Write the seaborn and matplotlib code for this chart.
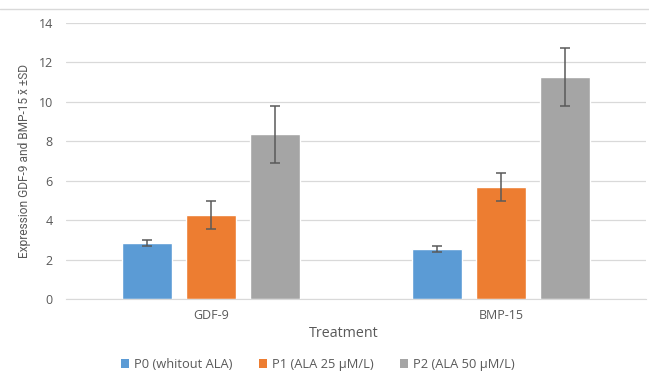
import pandas as pd
import numpy as np
import seaborn as sns
import matplotlib.pyplot as plt
from matplotlib.lines import Line2D
from matplotlib.patches import Patch

genes = ['GDF-9', 'BMP-15']
groups = ['P0 (whitout ALA)', 'P1 (ALA 25 µM/L)', 'P2 (ALA 50 µM/L)']
means = {
    'P0 (whitout ALA)': [2.83, 2.56],
    'P1 (ALA 25 µM/L)': [4.27, 5.68],
    'P2 (ALA 50 µM/L)': [8.37, 11.28],
}
sds = {
    'P0 (whitout ALA)': [0.15, 0.14],
    'P1 (ALA 25 µM/L)': [0.72, 0.71],
    'P2 (ALA 50 µM/L)': [1.45, 1.46],
}
colors = ['#5B9BD5', '#ED7D31', '#A5A5A5']

rows = []
for g in groups:
    for i, gene in enumerate(genes):
        rows.append({'gene': gene, 'group': g, 'mean': means[g][i], 'sd': sds[g][i]})
df = pd.DataFrame(rows)

sns.set_style('white')
plt.rcParams['font.family'] = ['Open Sans', 'DejaVu Sans']

fig = plt.figure(figsize=(6.49, 3.76), dpi=100)
ax = fig.add_axes([0.1017, 0.204, 0.8937, 0.7348])

sns.barplot(data=df, x='gene', y='mean', hue='group', order=genes, hue_order=groups,
            palette=colors, errorbar=None, width=0.662, gap=0.22, saturation=1,
            legend=False, ax=ax, zorder=2)

for cont, g in zip(ax.containers, groups):
    xs = [p.get_x() + p.get_width() / 2 for p in cont.patches]
    ax.errorbar(xs, means[g], yerr=sds[g], fmt='none', ecolor='#5a5a5a',
                elinewidth=1.1, capsize=3.5, capthick=1.1, zorder=3)

ax.set_ylim(0, 14)
ax.set_xlim(-0.5, 1.5)
ax.set_yticks(range(0, 15, 2))
ax.yaxis.grid(True, color='#d9d9d9', linewidth=0.9, zorder=0)
ax.set_axisbelow(True)
for s in ['top', 'right', 'left']:
    ax.spines[s].set_visible(False)
ax.spines['bottom'].set_color('#d9d9d9')
ax.tick_params(axis='both', length=0, colors='#595959', labelsize=9)
ax.tick_params(axis='y', pad=9.5)
ax.tick_params(axis='x', pad=7)
ax.set_xlabel('Treatment', fontsize=10.3, color='#595959')
ax.xaxis.set_label_coords(0.478, -0.097)
ax.set_ylabel('Expression GDF-9 and BMP-15 x\u0304 ±SD', fontsize=8.6, color='#595959',
              family=['Roboto', 'DejaVu Sans'], labelpad=5)

handles = [Patch(facecolor=c, edgecolor='none') for c in colors]
fig.legend(handles, groups, loc='center', bbox_to_anchor=(0.49, 0.03), ncol=3,
           frameon=False, fontsize=9.3, labelcolor='#595959', handlelength=0.65,
           handleheight=0.65, handletextpad=0.4, columnspacing=2.0)

fig.add_artist(Line2D([0, 1], [1 - 9 / 376, 1 - 9 / 376], color='#d9d9d9', linewidth=1))

fig.savefig('out.png', dpi=100)
